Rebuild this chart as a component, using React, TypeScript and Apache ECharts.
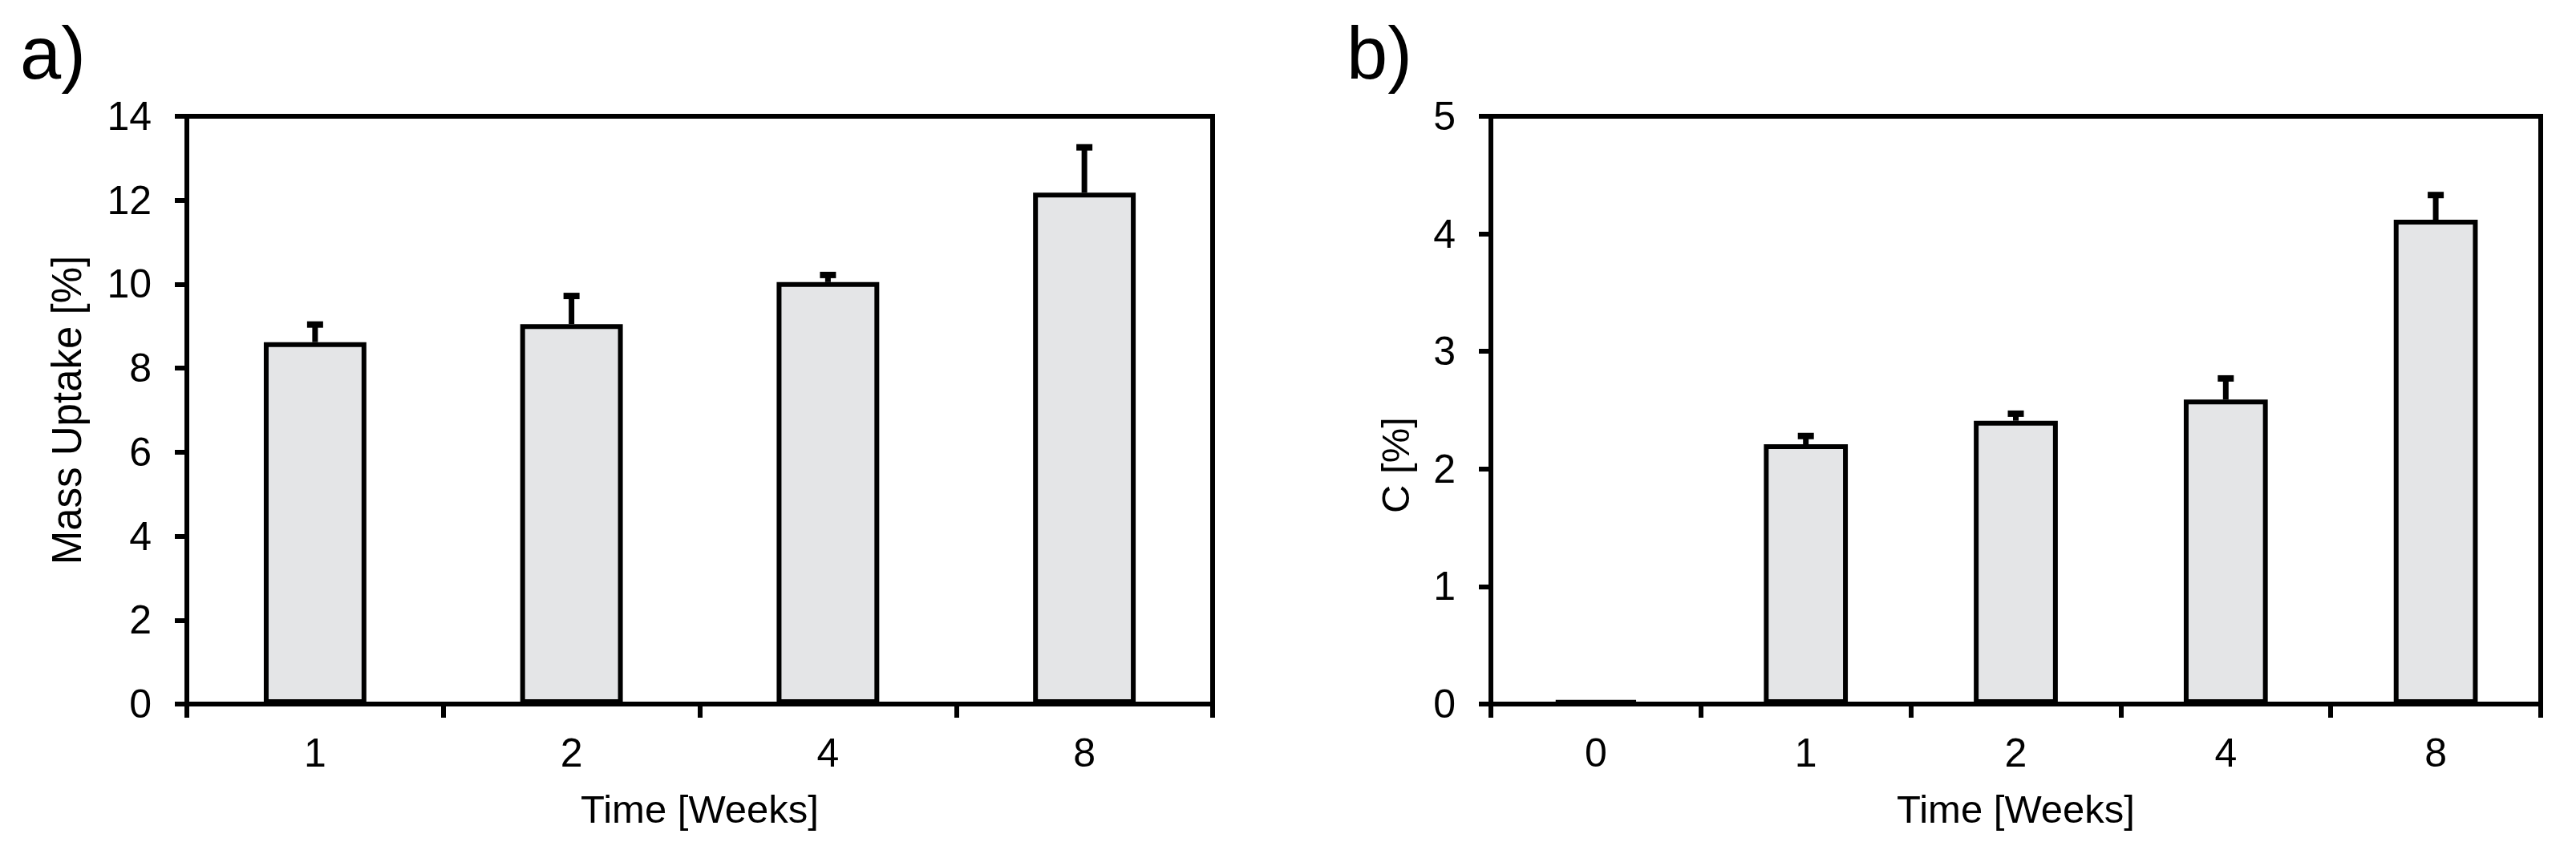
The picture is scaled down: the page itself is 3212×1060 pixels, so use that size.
import React, { useEffect, useRef } from "react";
import * as echarts from "echarts";

// Panel a: mass uptake
const catsA = ["1", "2", "4", "8"];
const massUptake = [8.62, 9.05, 10.05, 12.18];
const massUptakeErr = [0.42, 0.67, 0.17, 1.08];
const ticksA = { min: 0, max: 14, interval: 2 };

// Panel b: carbon content
const catsB = ["0", "1", "2", "4", "8"];
const carbon = [0.03, 2.21, 2.41, 2.59, 4.12];
const carbonErr = [0, 0.07, 0.06, 0.18, 0.21];
const ticksB = { min: 0, max: 5, interval: 1 };

const xTitle = "Time [Weeks]";
const yTitleA = "Mass Uptake [%]";
const yTitleB = "C [%]";

const FONT = "'Liberation Sans', Arial, Helvetica, sans-serif";
const W = 3212;
const H = 1060;

function errSeries(idx: number, vals: number[], errs: number[]) {
  return {
    type: "custom",
    xAxisIndex: idx,
    yAxisIndex: idx,
    z: 10,
    silent: true,
    data: vals.map((v, i) => [i, v, v + errs[i], errs[i]]),
    renderItem: (_p: any, api: any) => {
      if (api.value(3) <= 0) return null;
      const x = api.value(0);
      const lo = api.coord([x, api.value(1)]);
      const hi = api.coord([x, api.value(2)]);
      const cap = 10;
      return {
        type: "group",
        children: [
          { type: "line", shape: { x1: lo[0], y1: lo[1], x2: hi[0], y2: hi[1] }, style: { stroke: "#000", lineWidth: 7 } },
          { type: "line", shape: { x1: hi[0] - cap, y1: hi[1], x2: hi[0] + cap, y2: hi[1] }, style: { stroke: "#000", lineWidth: 8 } },
        ],
      };
    },
  };
}

export default function App() {
  const ref = useRef<HTMLDivElement>(null);
  useEffect(() => {
    if (!ref.current) return;
    const chart = echarts.init(ref.current, null, { renderer: "svg", width: W, height: H });
    const axisLine = { show: true, lineStyle: { color: "#000", width: 6 } };
    const axisTickX = { show: true, inside: false, length: 17, alignWithLabel: false, lineStyle: { color: "#000", width: 6 } };
    const axisTickY = { show: true, inside: false, length: 15, lineStyle: { color: "#000", width: 6 } };
    const labelStyle = { color: "#000", fontFamily: FONT, fontSize: 50 };
    const mkX = (idx: number, cats: string[]) => ({
      type: "category",
      gridIndex: idx,
      data: cats,
      boundaryGap: true,
      axisLine,
      axisTick: axisTickX,
      axisLabel: { ...labelStyle, margin: 36 },
      splitLine: { show: false },
      name: xTitle,
      nameLocation: "middle",
      nameGap: 106,
      nameTextStyle: { color: "#000", fontFamily: FONT, fontSize: 49 },
    });
    const mkY = (idx: number, t: { min: number; max: number; interval: number }, name?: string, gap = 0) => ({
      type: "value",
      gridIndex: idx,
      min: t.min,
      max: t.max,
      interval: t.interval,
      axisLine,
      axisTick: axisTickY,
      axisLabel: { ...labelStyle, margin: 44 },
      splitLine: { show: false },
      name,
      nameLocation: "middle",
      nameGap: gap,
      nameTextStyle: { color: "#000", fontFamily: FONT, fontSize: 51 },
    });
    chart.setOption({
      animation: false,
      backgroundColor: "#fff",
      grid: [
        { left: 233, right: W - 1512, top: 145, bottom: H - 878, show: true, borderColor: "#000", borderWidth: 6, containLabel: false },
        { left: 1859, right: W - 3168, top: 145, bottom: H - 878, show: true, borderColor: "#000", borderWidth: 6, containLabel: false },
      ],
      xAxis: [mkX(0, catsA), mkX(1, catsB)],
      yAxis: [mkY(0, ticksA, yTitleA, 124), mkY(1, ticksB)],
      graphic: [
        { type: "text", left: 25, top: 20, style: { text: "a)", fill: "#000", font: `92px ${FONT}` } },
        { type: "text", left: 1679, top: 20, style: { text: "b)", fill: "#000", font: `92px ${FONT}` } },
        {
          type: "text",
          x: 1740,
          y: 580,
          rotation: Math.PI / 2,
          style: { text: yTitleB, fill: "#000", font: `49px ${FONT}`, align: "center", verticalAlign: "middle" },
        },
      ],
      series: [
        {
          type: "bar",
          xAxisIndex: 0,
          yAxisIndex: 0,
          data: massUptake,
          barWidth: "40%",
          itemStyle: { color: "#e4e5e7", borderColor: "#000", borderWidth: 6 },
          z: 2,
        },
        {
          type: "bar",
          xAxisIndex: 1,
          yAxisIndex: 1,
          data: carbon,
          barWidth: "40%",
          itemStyle: { color: "#e4e5e7", borderColor: "#000", borderWidth: 6 },
          z: 2,
        },
        errSeries(0, massUptake, massUptakeErr),
        errSeries(1, carbon, carbonErr),
      ],
    });
    return () => chart.dispose();
  }, []);
  return <div ref={ref} style={{ position: "fixed", left: 0, top: 0, width: W, height: H, background: "#fff" }} />;
}
